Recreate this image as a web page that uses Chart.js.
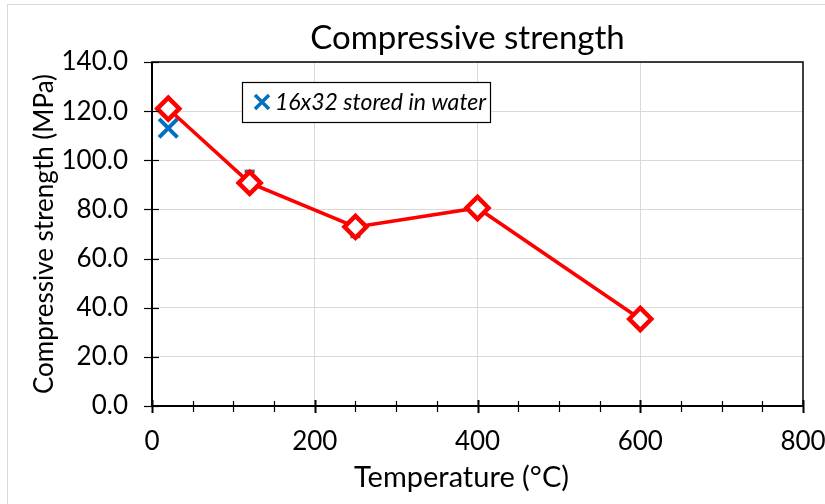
<!DOCTYPE html>
<html>
<head>
<meta charset="utf-8">
<script src="https://cdn.jsdelivr.net/npm/chart.js@4.4.0/dist/chart.umd.min.js"></script>
<style>
  body { margin: 0; background: #fff; }
  canvas { display: block; }
</style>
</head>
<body>
<canvas id="myChart" width="825" height="504"></canvas>
<script>
// red series: compressive strength vs temperature
const temps = [20, 120, 250, 400, 600];
const strength = [121, 90.8, 72.9, 80.6, 35.4];

// blue cross: 16x32 stored in water
const waterTemps = [20];
const waterStrength = [113.1];

// small grey error caps peeking out behind the markers
const capTemps = [120, 250];
const capValues = [95.5, 69];

const yTickValues = [0, 20, 40, 60, 80, 100, 120, 140];
const xTickValues = [0, 200, 400, 600, 800];

const chartTitle = 'Compressive strength';
const xTitle = 'Temperature (°C)';

const FONT = 'Lato, "Open Sans", sans-serif';

const toXY = (xs, ys) => xs.map((x, i) => ({ x: x, y: ys[i] }));

// outer frame, titles, plot border, crossing tick marks, legend box
const decor = {
  id: 'decor',
  beforeDraw(chart) {
    const c = chart.ctx;
    const a = chart.chartArea;
    const mid = (a.left + a.right) / 2;
    c.save();
    c.strokeStyle = '#d9d9d9';
    c.lineWidth = 1;
    c.strokeRect(7.5, 4.5, 830, 520);
    // titles sit a bit left of the plot centre, as in Excel
    c.fillStyle = '#000';
    c.textAlign = 'center';
    c.textBaseline = 'middle';
    c.font = '33px ' + FONT;
    c.fillText(chartTitle, mid - 10, a.top - 24);
    c.font = '29px ' + FONT;
    c.fillText(xTitle, mid - 16, a.bottom + 72);
    c.restore();
  },
  afterDatasetsDraw(chart) {
    const c = chart.ctx;
    const a = chart.chartArea;
    const xs = chart.scales.x, ys = chart.scales.y;
    c.save();
    c.strokeStyle = '#000';
    // plot border
    c.lineWidth = 1.5;
    c.strokeRect(a.left, a.top, a.right - a.left, a.bottom - a.top);
    c.lineWidth = 2;
    c.beginPath();
    c.moveTo(a.left, a.top); c.lineTo(a.left, a.bottom); c.lineTo(a.right, a.bottom);
    c.stroke();
    // x ticks: minor every 50, major every 200, crossing the axis
    for (let v = 0; v <= 800; v += 50) {
      const px = Math.round(xs.getPixelForValue(v)) + 0.5;
      const major = v % 200 === 0;
      c.lineWidth = major ? 2 : 1.2;
      c.beginPath();
      c.moveTo(px, a.bottom - (major ? 6 : 5));
      c.lineTo(px, a.bottom + (major ? 7 : 6));
      c.stroke();
    }
    // y ticks crossing the axis
    c.lineWidth = 1.2;
    yTickValues.forEach(v => {
      const py = Math.round(ys.getPixelForValue(v)) + 0.5;
      c.beginPath();
      c.moveTo(a.left - 8, py);
      c.lineTo(a.left + 7, py);
      c.stroke();
    });
    // legend box (only the water series is listed)
    const ds = chart.data.datasets[1];
    const bx = a.left + 90, by = a.top + 20, bw = 248, bh = 40;
    c.fillStyle = '#fff';
    c.fillRect(bx, by, bw, bh);
    c.lineWidth = 1.2;
    c.strokeStyle = '#000';
    c.strokeRect(bx + 0.5, by + 0.5, bw, bh);
    const cx = bx + 20, cy = by + bh / 2, r = 7;
    c.strokeStyle = ds.borderColor;
    c.lineWidth = 3.5;
    c.beginPath();
    c.moveTo(cx - r, cy - r); c.lineTo(cx + r, cy + r);
    c.moveTo(cx + r, cy - r); c.lineTo(cx - r, cy + r);
    c.stroke();
    c.fillStyle = '#000';
    c.font = 'italic 23px ' + FONT;
    c.textBaseline = 'middle';
    c.textAlign = 'left';
    c.fillText(ds.label, bx + 33, cy + 1);
    c.restore();
  }
};

const ctx = document.getElementById('myChart');

new Chart(ctx, {
  type: 'scatter',
  data: {
    datasets: [{
      label: 'Compressive strength',
      data: toXY(temps, strength),
      showLine: true,
      borderColor: '#ff0000',
      borderWidth: 3.5,
      pointStyle: 'rectRot',
      pointRadius: 11,
      pointBorderWidth: 4.5,
      pointBackgroundColor: '#ffffff',
      pointBorderColor: '#ff0000',
      order: 0
    }, {
      label: '16x32 stored in water',
      data: toXY(waterTemps, waterStrength),
      borderColor: '#0070c0',
      pointStyle: 'crossRot',
      pointRadius: 13,
      pointBorderWidth: 4,
      order: 1
    }, {
      label: 'caps',
      data: toXY(capTemps, capValues),
      borderColor: '#595959',
      pointStyle: 'line',
      pointRadius: 5,
      pointBorderWidth: 3.5,
      order: 2
    }]
  },
  options: {
    responsive: false,
    animation: false,
    layout: { padding: { left: 25, right: 22, top: 62, bottom: 11 } },
    plugins: {
      legend: { display: false },
      tooltip: { enabled: false },
      title: { display: false }
    },
    scales: {
      x: {
        type: 'linear',
        min: 0, max: 800,
        afterBuildTicks: s => { s.ticks = xTickValues.map(v => ({ value: v })); },
        afterFit: s => { s.height = 87; s.paddingLeft = 0; s.paddingRight = 0; },
        grid: {
          drawTicks: false,
          color: ctx => (ctx.tick && ctx.tick.value > 0 && ctx.tick.value < 800) ? '#d9d9d9' : 'rgba(0,0,0,0)',
          lineWidth: 1
        },
        border: { display: false },
        ticks: { color: '#000', padding: 20, font: { family: FONT, size: 26 } },
        title: { display: false }
      },
      y: {
        min: 0, max: 140,
        afterBuildTicks: s => { s.ticks = yTickValues.map(v => ({ value: v })); },
        afterFit: s => { s.width = 127; s.paddingTop = 0; s.paddingBottom = 0; },
        grid: { drawTicks: false, color: '#d9d9d9', lineWidth: 1 },
        border: { display: false },
        ticks: {
          color: '#000', padding: 24, font: { family: FONT, size: 26 },
          callback: v => v.toFixed(1)
        },
        title: {
          display: true, text: 'Compressive strength (MPa)', color: '#000',
          font: { family: FONT, size: 26 }, padding: { top: 4, bottom: 0 }
        }
      }
    }
  },
  plugins: [decor]
});
</script>
</body>
</html>
